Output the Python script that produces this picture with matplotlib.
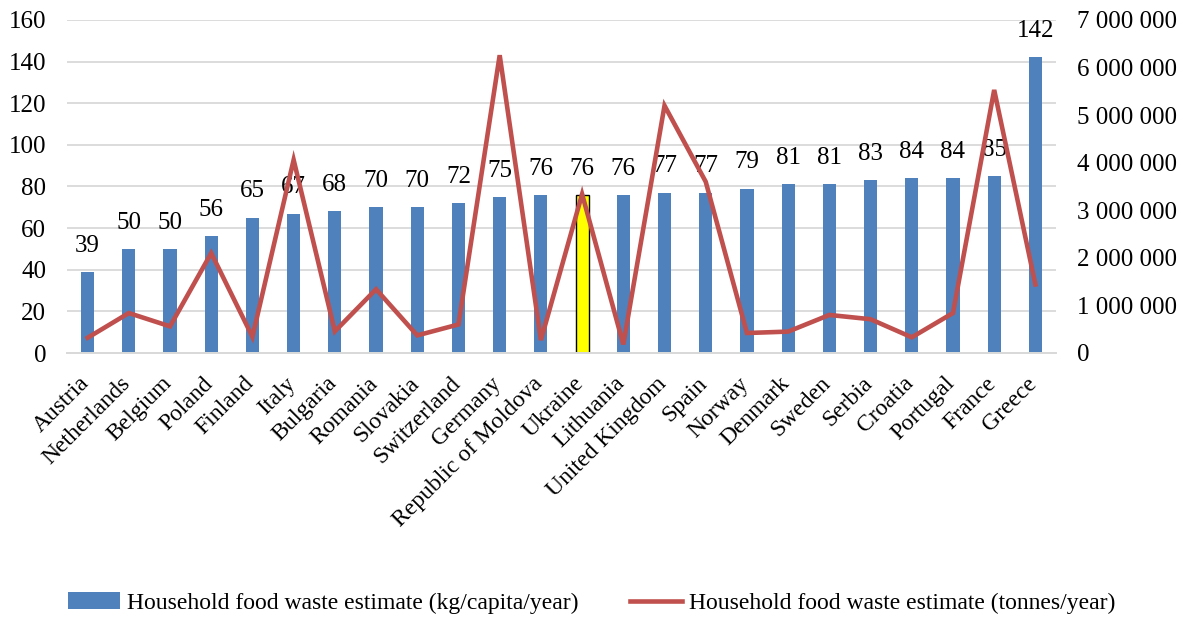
import numpy as np
import matplotlib.pyplot as plt
import matplotlib.transforms as mtransforms
from matplotlib.ticker import FuncFormatter

plt.rcParams['font.family'] = ['Liberation Serif', 'DejaVu Serif']

countries = ["Austria", "Netherlands", "Belgium", "Poland", "Finland", "Italy",
             "Bulgaria", "Romania", "Slovakia", "Switzerland", "Germany",
             "Republic of Moldova", "Ukraine", "Lithuania", "United Kingdom",
             "Spain", "Norway", "Denmark", "Sweden", "Serbia", "Croatia",
             "Portugal", "France", "Greece"]

kg_per_capita = [39, 50, 50, 56, 65, 67, 68, 70, 70, 72, 75, 76, 76, 76, 77,
                 77, 79, 81, 81, 83, 84, 84, 85, 142]

tonnes_per_year = [320000, 840000, 560000, 2100000, 340000, 4060000, 455000,
                   1340000, 370000, 600000, 6260000, 270000, 3340000, 180000,
                   5200000, 3600000, 420000, 450000, 800000, 710000, 330000,
                   840000, 5530000, 1440000]

highlight = "Ukraine"

blue = "#4F81BD"
red = "#C0504D"

fig = plt.figure(figsize=(11.83, 6.19), dpi=100)
ax = fig.add_axes([67 / 1183, 1 - 353 / 619, (1056 - 67) / 1183, 333 / 619])
ax2 = ax.twinx()

x = np.arange(len(countries))
colors = ["#FFFF00" if c == highlight else blue for c in countries]
edges = ["black" if c == highlight else blue for c in countries]
bars = ax.bar(x, kg_per_capita, width=0.32, color=colors, edgecolor=edges,
              linewidth=[1.0 if c == highlight else 0 for c in countries],
              label="Household food waste estimate (kg/capita/year)", zorder=2)
for xi, v in zip(x, kg_per_capita):
    ax.annotate(str(v), (xi, v), xytext=(0, 11), textcoords="offset points",
                ha="center", va="bottom", fontsize=18, zorder=5)

ax2.plot(x, tonnes_per_year, color=red, linewidth=3.3, solid_joinstyle="miter",
         label="Household food waste estimate (tonnes/year)", zorder=3)

ax.set_xlim(-0.5, len(countries) - 0.5)
ax.set_ylim(0, 160)
ax.set_yticks(np.arange(0, 161, 20))
ax2.set_ylim(0, 7000000)
ax2.set_yticks(np.arange(0, 7000001, 1000000))
ax2.yaxis.set_major_formatter(FuncFormatter(lambda v, p: f"{int(v):,}".replace(",", " ")))

ax.grid(axis="y", color="#D9D9D9", linewidth=1.3, zorder=0)
ax.set_axisbelow(True)
for a in (ax, ax2):
    for s in ["top", "left", "right"]:
        a.spines[s].set_visible(False)
    a.spines["bottom"].set_color("#D9D9D9")
    a.spines["bottom"].set_linewidth(1.3)
    a.tick_params(length=0, labelsize=18)
ax.tick_params(axis="y", pad=15)
ax2.tick_params(axis="y", pad=15)

ax.set_xticks(x)
ax.set_xticklabels(countries, rotation=45, ha="right", rotation_mode="anchor", fontsize=17)
ax.tick_params(axis="x", pad=5)
# nudge the rotated labels down-left like the original
shift = mtransforms.ScaledTranslation(-9 / 100, -13 / 100, fig.dpi_scale_trans)
for lbl in ax.get_xticklabels():
    lbl.set_transform(lbl.get_transform() + shift)

# line drawn over the bars
ax2.set_zorder(ax.get_zorder() + 1)

fig.legend([bars, ax2.get_lines()[0]],
           ["Household food waste estimate (kg/capita/year)",
            "Household food waste estimate (tonnes/year)"],
           loc="center", ncol=2, frameon=False, fontsize=17,
           bbox_to_anchor=(0.5, 1 - 603 / 619),
           columnspacing=2.2, handlelength=2.2, handletextpad=0.3)

fig.savefig("out.png", dpi=100)
